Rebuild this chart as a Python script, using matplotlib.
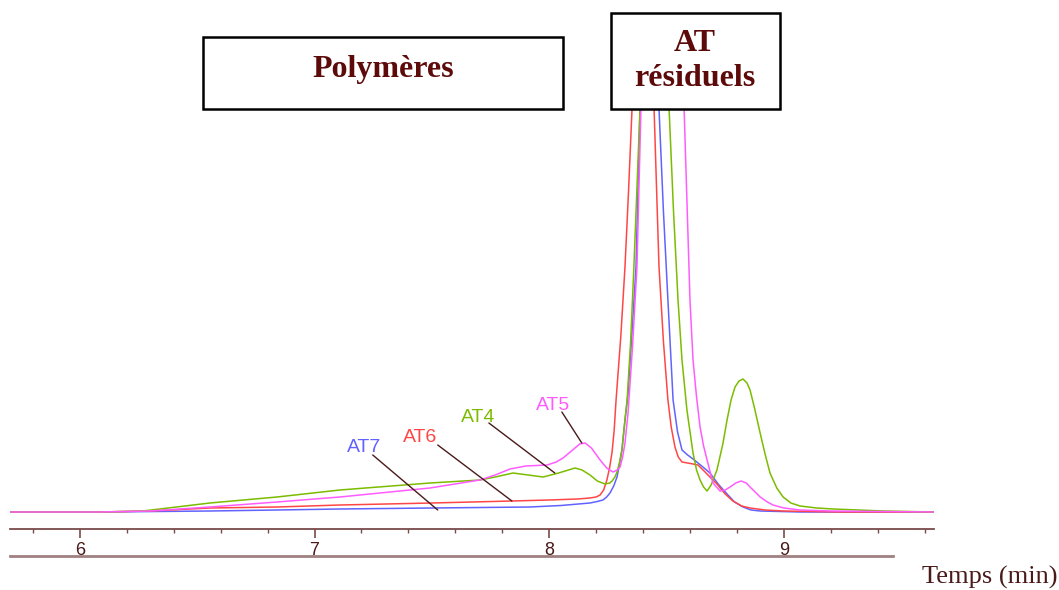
import matplotlib
matplotlib.use("Agg")
import matplotlib.pyplot as plt
from matplotlib.patches import Rectangle
from matplotlib.lines import Line2D
from matplotlib.ticker import MultipleLocator

# Chromatogrammes (temps en min, intensité en unités arbitraires)
t_at6 = [5.702, 6.085, 6.298, 6.554, 6.840, 7.108, 7.5, 7.841, 8.0, 8.12,
         8.174, 8.2, 8.217, 8.232, 8.246, 8.258, 8.268, 8.277, 8.285, 8.305,
         8.323, 8.338, 8.353, 8.375, 8.400, 8.425, 8.447, 8.468, 8.487, 8.506,
         8.52, 8.536, 8.55, 8.566, 8.59, 8.613, 8.634, 8.66, 8.685, 8.715,
         8.75, 8.783, 8.82, 8.856, 8.92, 8.997, 9.24, 9.64]
i_at6 = [0, 0, 1, 4, 5, 7, 9, 11, 12, 13,
         14, 15, 17, 22, 32, 45, 60, 82, 112, 175,
         245, 320, 403, 460, 475, 460, 403, 245, 170, 112,
         85, 65, 55, 50, 49, 48, 47, 41, 35, 28,
         18, 11, 6, 4, 2, 1, 0, 0]

t_at7 = [5.702, 6.085, 6.554, 6.840, 7.108, 7.5, 7.918, 8.05, 8.174, 8.205,
         8.229, 8.245, 8.259, 8.275, 8.289, 8.300, 8.310, 8.323, 8.336, 8.353,
         8.370, 8.387, 8.408, 8.430, 8.450, 8.468, 8.487, 8.506, 8.528, 8.547,
         8.566, 8.59, 8.613, 8.65, 8.685, 8.72, 8.758, 8.79, 8.826, 8.86,
         8.899, 9.069, 9.640]
i_at7 = [0, 0, 1, 2, 3, 4, 5, 6.5, 9, 10.5,
         12, 15, 19, 26, 35, 48, 62, 92, 118, 180,
         245, 403, 460, 475, 460, 403, 300, 212, 112, 80,
         62, 57, 53, 46, 39, 28, 18, 10, 5, 2,
         1, 0, 0]

t_at4 = [5.702, 6.085, 6.269, 6.554, 6.840, 7.108, 7.492, 7.705, 7.77, 7.846,
         7.91, 7.974, 8.04, 8.110, 8.14, 8.174, 8.205, 8.238, 8.258, 8.268,
         8.280, 8.289, 8.300, 8.310, 8.323, 8.332, 8.347, 8.361, 8.387, 8.420,
         8.451, 8.482, 8.511, 8.530, 8.549, 8.566, 8.587, 8.613, 8.628, 8.643,
         8.658, 8.673, 8.69, 8.715, 8.74, 8.758, 8.775, 8.792, 8.809, 8.826,
         8.843, 8.856, 8.875, 8.899, 8.92, 8.941, 8.97, 8.997, 9.03, 9.069,
         9.14, 9.210, 9.423, 9.640]
i_at4 = [0, 0, 1, 9, 15, 22, 29, 32, 35, 39,
         37, 35, 39, 44, 42, 37, 31, 28, 29, 31,
         35, 40, 50, 62, 92, 112, 170, 245, 403, 465,
         475, 460, 403, 300, 212, 152, 102, 59, 42, 32,
         25, 21, 27, 42, 68, 92, 112, 125, 131, 133,
         129, 122, 104, 79, 58, 39, 24, 15, 9, 6,
         4, 3, 1, 0]

t_at5 = [5.702, 6.085, 6.298, 6.554, 6.840, 7.108, 7.492, 7.705, 7.77, 7.833,
         7.9, 7.991, 8.03, 8.059, 8.10, 8.13, 8.153, 8.18, 8.217, 8.245,
         8.272, 8.290, 8.302, 8.313, 8.323, 8.336, 8.355, 8.374, 8.391, 8.435,
         8.481, 8.53, 8.575, 8.600, 8.613, 8.628, 8.643, 8.658, 8.673, 8.698,
         8.728, 8.75, 8.771, 8.795, 8.818, 8.84, 8.856, 8.878, 8.899, 8.93,
         8.954, 9.0, 9.069, 9.2, 9.640]
i_at5 = [0, 0, 1, 5, 10, 15, 24, 32, 37, 43,
         46, 47, 50, 54, 62, 68, 69, 64, 52, 44,
         40, 42, 45, 55, 69, 99, 165, 245, 403, 465,
         475, 460, 403, 212, 152, 115, 85, 66, 52, 29,
         21, 22, 25, 29, 31, 29, 25, 20, 15, 10,
         7, 4, 2, 1, 0]

noms = ["AT7", "AT6", "AT4", "AT5"]
couleurs = ["#6262ff", "#ff4646", "#7cbc00", "#ff5cff"]
# position des étiquettes et point visé sur chaque courbe
pos_texte = [(7.21, 65), (7.449, 75), (7.696, 95), (8.015, 107)]
debut_trait = [(7.248, 57), (7.525, 67), (7.743, 89), (8.054, 100)]
fin_trait = [(7.525, 2), (7.841, 11), (8.024, 39), (8.139, 69)]

brun = "#5c0a0a"

fig = plt.figure(figsize=(10.59, 5.90), dpi=100)
ax = fig.add_axes([10 / 1059, 61 / 590, 924 / 1059, 529 / 590])

series = [(t_at7, i_at7), (t_at6, i_at6), (t_at4, i_at4), (t_at5, i_at5)]
for (t, i), c in zip(series, couleurs):
    ax.plot(t, i, color=c, lw=1.1, zorder=2)

for nom, c, p, d, f in zip(noms, couleurs, pos_texte, debut_trait, fin_trait):
    ax.text(p[0], p[1], nom, color=c, fontsize=14, ha="center", va="center",
            family=["Liberation Sans", "DejaVu Sans"], zorder=4)
    ax.annotate("", xy=f, xytext=d,
                arrowprops=dict(arrowstyle="-", color="#4a1a1a", lw=1.0,
                                shrinkA=0, shrinkB=0), zorder=4)

ax.set_xlim(5.702, 9.64)
ax.set_ylim(-17, 512)
for s in ["left", "right", "top"]:
    ax.spines[s].set_visible(False)
ax.spines["bottom"].set_color("#7a4a4a")
ax.spines["bottom"].set_linewidth(1.3)
ax.set_yticks([])
ax.xaxis.set_major_locator(MultipleLocator(1))
ax.xaxis.set_minor_locator(MultipleLocator(0.2))
ax.tick_params(axis="x", which="major", length=6.5, width=1.2, color="#7a4a4a",
               labelcolor="#4a1a1a", labelsize=13, pad=3)
ax.tick_params(axis="x", which="minor", length=3, width=1.0, color="#7a4a4a")
for lab in ax.get_xticklabels():
    lab.set_family(["Liberation Sans Narrow", "Liberation Sans"])

# deuxième trait horizontal sous les graduations
fig.add_artist(Line2D([10 / 1059, 893 / 1059], [1 - 556 / 590] * 2,
                      color="#a08080", lw=2))

fig.text(1057 / 1059, 1 - 577 / 590, "Temps (min)", ha="right", va="center",
         fontsize=19, color="#4a1a1a", family="Liberation Serif")

# encadrés
ax.add_patch(Rectangle((203 / 1059, 1 - 109 / 590), 360 / 1059, 72 / 590,
                       transform=fig.transFigure, facecolor="white",
                       edgecolor="black", lw=1.8, zorder=5, clip_on=False))
fig.text(383 / 1059, 1 - 70 / 590, "Polymères", ha="center", va="center",
         fontsize=23, fontweight="bold", color=brun, family="Liberation Serif",
         zorder=6)
ax.add_patch(Rectangle((611 / 1059, 1 - 109 / 590), 169 / 1059, 96 / 590,
                       transform=fig.transFigure, facecolor="white",
                       edgecolor="black", lw=1.8, zorder=5, clip_on=False))
fig.text(695 / 1059, 1 - 61 / 590, "AT\nrésiduels", ha="center", va="center",
         fontsize=23, fontweight="bold", color=brun, family="Liberation Serif",
         linespacing=1.25, zorder=6)

fig.savefig("out.png", dpi=100)
